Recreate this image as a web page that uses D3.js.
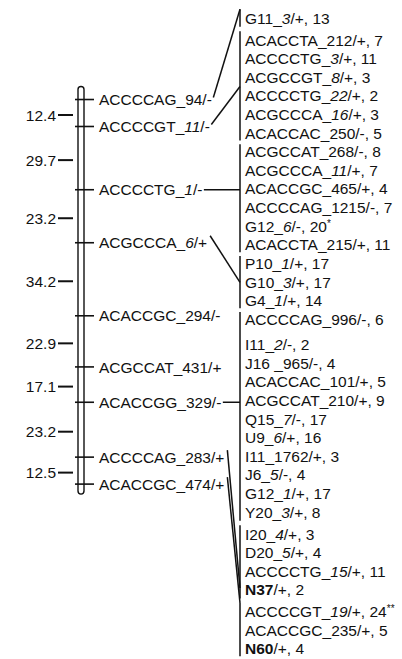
<!DOCTYPE html>
<html>
<head>
<meta charset="utf-8">
<script src="https://cdn.jsdelivr.net/npm/d3@7"></script>
<style>
  html, body { margin: 0; padding: 0; background: #fff; }
  text { font-family: "Liberation Sans", Arial, Helvetica, sans-serif; fill: #111; }
</style>
</head>
<body>
<div id="map"></div>
<script>
// markers on the linkage group (top to bottom); {..} = italic part
const leftMarkers = [
  "ACCCCAG_94/-", "ACCCCGT_{11}/-", "ACCCCTG_{1}/-", "ACGCCCA_{6}/+",
  "ACACCGC_294/-", "ACGCCAT_431/+", "ACACCGG_329/-", "ACCCCAG_283/+", "ACACCGC_474/+"
];
// distances between neighbouring markers (cM)
const distances = [12.4, 29.7, 23.2, 34.2, 22.9, 17.1, 23.2, 12.5];

// groups of co-segregating markers on the right; [..] = bold, ^ = superscript
const groupA = ["G11_{3}/+, 13"];
const groupB = ["ACACCTA_212/+, 7", "ACCCCTG_{3}/+, 11", "ACGCCGT_{8}/+, 3",
  "ACCCCTG_{22}/+, 2", "ACGCCCA_{16}/+, 3", "ACACCAC_250/-, 5"];
const groupC = ["ACGCCAT_268/-, 8", "ACGCCCA_{11}/+, 7", "ACACCGC_465/+, 4",
  "ACCCCAG_1215/-, 7", "G12_{6}/-, 20^*", "ACACCTA_215/+, 11"];
const groupD = ["P10_{1}/+, 17", "G10_{3}/+, 17", "G4_{1}/+, 14"];
const groupE = ["ACCCCAG_996/-, 6", "I11_{2}/-, 2", "J16 _965/-, 4", "ACACCAC_101/+, 5",
  "ACGCCAT_210/+, 9", "Q15_{7}/-, 17", "U9_{6}/+, 16", "I11_1762/+, 3",
  "J6_{5}/-, 4", "G12_{1}/+, 17", "Y20_{3}/+, 8"];
const groupF = ["I20_{4}/+, 3", "D20_{5}/+, 4", "ACCCCTG_{15}/+, 11", "[N37]/+, 2"];
const groupG = ["ACCCCGT_{19}/+, 24^**", "ACACCGC_235/+, 5", "[N60]/+, 4"];

// which marker on the left is linked to which group
const linkMarker = [0, 1, 2, 3, 6, 7, 8];

// ---- layout ----
const width = 402, height = 659;
const fontSize = 15.5;
const rowStep = 18.6, rowTop = 18;
const rowGaps = [[1, 3.4], [13, 0.5], [17, 6.5], [27, 3.5], [31, 3]];
const markerRow = [4.2, 5.65, 9.05, 11.9, 15.8, 18.2, 20.1, 23.05, 24.5];
const linkRow = [-0.4, 3.5, null, 14, null, 29.9, 30.6];   // null = straight across
const bracketX = 240, listX = 245;
const barX = 78, barW = 6, tickX0 = 75, tickX1 = 94, labelX = 99;

const groups = [groupA, groupB, groupC, groupD, groupE, groupF, groupG];
const rows = groups.flat();

// y position of every list row
let acc = rowTop;
const rowYs = rows.map((d, i) => {
  if (i > 0) acc += rowStep;
  rowGaps.forEach(g => { if (g[0] === i) acc += g[1]; });
  return acc;
});
const y = d3.scaleLinear().domain(d3.range(rows.length)).range(rowYs);

const svg = d3.select("#map")
  .append("svg")
  .attr("width", width)
  .attr("height", height);

// write a label with italic / bold / superscript parts
function rich(sel, str) {
  const re = /\{([^}]*)\}|\[([^\]]*)\]|\^(\*+)|([^{\[\^]+)/g;
  let m;
  while ((m = re.exec(str)) !== null) {
    if (m[1] !== undefined) sel.append("tspan").style("font-style", "italic").text(m[1]);
    else if (m[2] !== undefined) sel.append("tspan").style("font-weight", "bold").text(m[2]);
    else if (m[3] !== undefined) sel.append("tspan").attr("font-size", 10).attr("dy", -5).text(m[3]);
    else sel.append("tspan").text(m[4]);
  }
}

// chromosome bar
const yTop = y(markerRow[0]) - 13, yBot = y(markerRow[markerRow.length - 1]) + 10;
svg.append("rect")
  .attr("x", barX).attr("y", yTop)
  .attr("width", barW).attr("height", yBot - yTop)
  .attr("rx", 3)
  .attr("fill", "#fff")
  .attr("stroke", "#111")
  .attr("stroke-width", 1.4);

// marker ticks and names
svg.selectAll(".tick")
  .data(markerRow)
  .join("line")
  .attr("x1", tickX0).attr("x2", tickX1)
  .attr("y1", d => y(d)).attr("y2", d => y(d))
  .attr("stroke", "#111").attr("stroke-width", 1.6);

const leftLabels = svg.selectAll(".mlabel")
  .data(leftMarkers)
  .join("text")
  .attr("x", labelX)
  .attr("y", (d, i) => y(markerRow[i]))
  .attr("dy", "0.36em")
  .attr("font-size", fontSize)
  .each(function(d) { rich(d3.select(this), d); });

// distances between markers
distances.forEach((d, i) => {
  const ym = (y(markerRow[i]) + y(markerRow[i + 1])) / 2 + 2;
  svg.append("line")
    .attr("x1", 58).attr("x2", 73)
    .attr("y1", ym).attr("y2", ym)
    .attr("stroke", "#111").attr("stroke-width", 2);
  svg.append("text")
    .attr("x", 56).attr("y", ym)
    .attr("dy", "0.36em")
    .attr("text-anchor", "end")
    .attr("font-size", fontSize)
    .text(d3.format(".1f")(d));
});

// right hand list
svg.selectAll(".rlabel")
  .data(rows)
  .join("text")
  .attr("x", listX)
  .attr("y", (d, i) => rowYs[i])
  .attr("dy", "0.36em")
  .attr("font-size", fontSize)
  .each(function(d) { rich(d3.select(this), d); });

// brackets and links
let start = 0;
groups.forEach((g, gi) => {
  const first = start, last = start + g.length - 1;
  start += g.length;
  svg.append("line")
    .attr("x1", bracketX).attr("x2", bracketX)
    .attr("y1", y(first - 0.4)).attr("y2", Math.min(y(last + 0.4), height))
    .attr("stroke", "#111").attr("stroke-width", 1.5);

  const mi = linkMarker[gi];
  const node = leftLabels.nodes()[mi];
  const xEnd = labelX + node.getComputedTextLength();
  const my = y(markerRow[mi]);
  const target = linkRow[gi] === null ? my : y(linkRow[gi]);
  // links from the lower markers leave from the top of the label
  const y0 = target > my + 20 ? my - 7 : (target < my - 20 ? my - 2 : my);
  svg.append("line")
    .attr("x1", xEnd + (target > my + 20 ? 3 : 1.5)).attr("y1", y0)
    .attr("x2", bracketX).attr("y2", target)
    .attr("stroke", "#111").attr("stroke-width", 1.5);
});
</script>
</body>
</html>
